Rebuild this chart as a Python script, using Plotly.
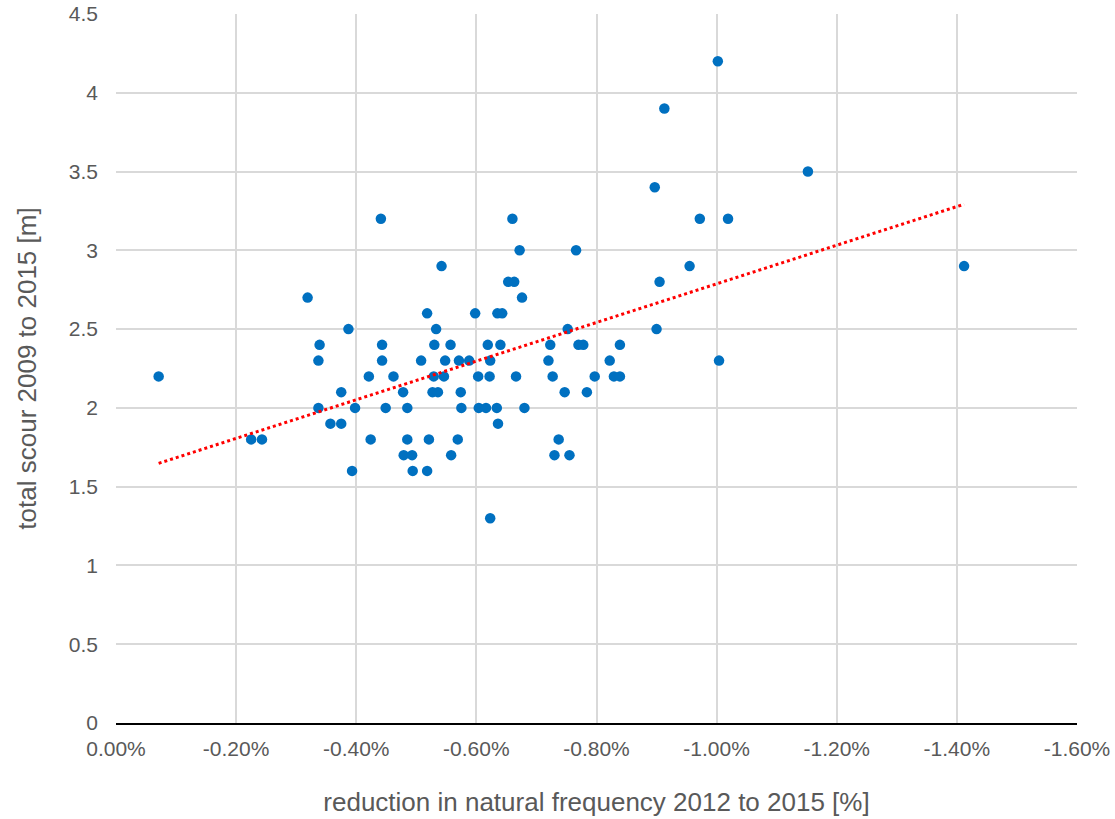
import numpy as np
import plotly.graph_objects as go

# reduction in natural frequency 2012 to 2015 [%]
freq_reduction = [
    -1.002, -0.913, -1.152, -0.897,
    -0.441, -0.660, -0.972, -1.019,
    -0.672, -0.766,
    -0.542, -0.955, -1.412,
    -0.653, -0.663, -0.905,
    -0.319, -0.676,
    -0.518, -0.598, -0.635, -0.643,
    -0.387, -0.533, -0.752, -0.900,
    -0.339, -0.443, -0.530, -0.557, -0.619, -0.640, -0.723, -0.770, -0.778, -0.839,
    -0.337, -0.443, -0.508, -0.548, -0.571, -0.588, -0.623, -0.720, -0.822, -1.004,
    -0.071, -0.421, -0.462, -0.529, -0.546, -0.603, -0.622, -0.666, -0.727, -0.797, -0.829, -0.839,
    -0.375, -0.478, -0.527, -0.536, -0.574, -0.747, -0.784,
    -0.337, -0.398, -0.449, -0.485, -0.575, -0.604, -0.616, -0.634, -0.680,
    -0.357, -0.375, -0.636,
    -0.225, -0.243, -0.424, -0.485, -0.521, -0.569, -0.737,
    -0.479, -0.493, -0.558, -0.730, -0.755,
    -0.393, -0.494, -0.518,
    -0.623,
]
# total scour 2009 to 2015 [m]
total_scour = [
    4.2, 3.9, 3.5, 3.4,
    3.2, 3.2, 3.2, 3.2,
    3.0, 3.0,
    2.9, 2.9, 2.9,
    2.8, 2.8, 2.8,
    2.7, 2.7,
    2.6, 2.6, 2.6, 2.6,
    2.5, 2.5, 2.5, 2.5,
    2.4, 2.4, 2.4, 2.4, 2.4, 2.4, 2.4, 2.4, 2.4, 2.4,
    2.3, 2.3, 2.3, 2.3, 2.3, 2.3, 2.3, 2.3, 2.3, 2.3,
    2.2, 2.2, 2.2, 2.2, 2.2, 2.2, 2.2, 2.2, 2.2, 2.2, 2.2, 2.2,
    2.1, 2.1, 2.1, 2.1, 2.1, 2.1, 2.1,
    2.0, 2.0, 2.0, 2.0, 2.0, 2.0, 2.0, 2.0, 2.0,
    1.9, 1.9, 1.9,
    1.8, 1.8, 1.8, 1.8, 1.8, 1.8, 1.8,
    1.7, 1.7, 1.7, 1.7, 1.7,
    1.6, 1.6, 1.6,
    1.3,
]

x_tickvals = [0.0, -0.2, -0.4, -0.6, -0.8, -1.0, -1.2, -1.4, -1.6]
x_ticktext = ["0.00%", "-0.20%", "-0.40%", "-0.60%", "-0.80%",
              "-1.00%", "-1.20%", "-1.40%", "-1.60%"]
y_tickvals = [0, 0.5, 1, 1.5, 2, 2.5, 3, 3.5, 4, 4.5]
y_ticktext = ["0", "0.5", "1", "1.5", "2", "2.5", "3", "3.5", "4", "4.5"]

# linear trendline (least squares, like the spreadsheet trendline)
xa = np.array(freq_reduction)
ya = np.array(total_scour)
slope, intercept = np.polyfit(xa, ya, 1)
trend_x = [xa.max(), xa.min()]
trend_y = [slope * v + intercept for v in trend_x]

TXT = "#595959"
GRID = "#D9D9D9"
FONT = "Liberation Sans, Arial, sans-serif"

fig = go.Figure()
fig.add_trace(go.Scatter(
    x=freq_reduction, y=total_scour, mode="markers",
    marker=dict(color="#0070C0", size=10.5, line=dict(width=0)),
    showlegend=False, hoverinfo="x+y",
))
fig.add_trace(go.Scatter(
    x=trend_x, y=trend_y, mode="lines",
    line=dict(color="#FF0000", width=3, dash="dot"),
    showlegend=False, hoverinfo="skip",
))

fig.update_layout(
    width=1115, height=819,
    margin=dict(l=116, r=38, t=14, b=96),
    paper_bgcolor="white", plot_bgcolor="white",
    font=dict(family=FONT, color=TXT, size=21),
    xaxis=dict(
        range=[0, -1.6], tickvals=x_tickvals, ticktext=x_ticktext,
        automargin=False,
        showgrid=True, gridcolor=GRID, gridwidth=1.5,
        zeroline=False, showline=True, linecolor="black", linewidth=1.5,
        ticks="", ticklabelstandoff=6,
        tickfont=dict(size=21, color=TXT, family=FONT),
        title=dict(text="reduction in natural frequency 2012 to 2015 [%]",
                   font=dict(size=26, color=TXT, family=FONT), standoff=34),
    ),
    yaxis=dict(
        range=[0, 4.5], tickvals=y_tickvals, ticktext=y_ticktext,
        automargin=False,
        showgrid=True, gridcolor=GRID, gridwidth=1.5,
        zeroline=False, showline=False,
        ticks="", ticklabelstandoff=17,
        tickfont=dict(size=21, color=TXT, family=FONT),
        title=dict(text="total scour 2009 to 2015 [m]",
                   font=dict(size=26, color=TXT, family=FONT), standoff=24),
    ),
)

fig.write_html("out.html")
